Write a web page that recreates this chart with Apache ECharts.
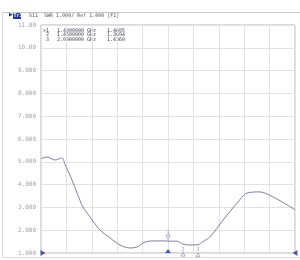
<!DOCTYPE html>
<html><head><meta charset="utf-8">
<script src="https://cdn.jsdelivr.net/npm/echarts@6/dist/echarts.min.js"></script>
<style>html,body{margin:0;padding:0;background:#fff}#c{width:300px;height:260px}</style>
</head><body><div id="c"></div>
<script>
// Trace: stimulus position (0..100 across the 10 divisions) and SWR values
const tracePos = [0, 0.8, 2.4, 5.5, 8.3, 9.4, 12.2, 14.2, 16.5, 19.3, 23.2, 27.2, 31.1, 35.0, 37.8, 40.9, 44.1, 48.8, 50, 53.5, 55.9, 58.7, 61.8, 63.8, 66.5, 71.7, 77.2, 81.1, 86.2, 91.3, 96.9, 100];
const traceSWR = [5.12, 5.17, 5.21, 5.08, 5.17, 4.90, 4.20, 3.63, 3.02, 2.58, 2.01, 1.66, 1.35, 1.22, 1.26, 1.48, 1.53, 1.53, 1.52, 1.52, 1.39, 1.35, 1.36, 1.50, 1.70, 2.45, 3.19, 3.63, 3.68, 3.46, 3.11, 2.89];
const yTickLabels = ["1.000","2.000","3.000","4.000","5.000","6.000","7.000","8.000","9.000","10.00","11.00"];
// Markers
const markerNames = ["1", "2", "3"];
const markerPos = [50, 55.9, 61.8];
const markerFreq = ["1.4000000", "1.4500000", "2.0000000"];
const markerVal = ["1.4695", "1.3694", "1.4360"];
const markerSWR = [1.52, 1.39, 1.36];

const chart = echarts.init(document.getElementById('c'), null, {renderer: 'canvas'});
const mono = 'DejaVu Sans Mono';
const traceColor = '#7b80a6';
const blue = '#23389a';

const tableTexts = [];
for (let i = 0; i < markerNames.length; i++) {
  const y = 28 + i * 4.6;
  tableTexts.push({type:'text', left: 43, top: y, style:{text: (i===0?'>':' ') + markerNames[i], font: '5px ' + mono, fill:'#445'}});
  tableTexts.push({type:'text', left: 57, top: y, style:{text: markerFreq[i] + ' GHz', font: '5px ' + mono, fill:'#445'}});
  tableTexts.push({type:'text', left: 107, top: y, style:{text: markerVal[i], font: '5px ' + mono, fill:'#445'}});
}

chart.setOption({
  animation: false,
  backgroundColor: '#fff',
  grid: {left: 41, top: 25, width: 254, height: 228, show: true, borderColor: '#b4b4b4', borderWidth: 1},
  xAxis: {type: 'value', min: 0, max: 100, interval: 10,
    axisLine: {show: false}, axisTick: {show: false}, axisLabel: {show: false},
    splitLine: {show: true, lineStyle: {color: '#e2e2e2', width: 1}}},
  yAxis: {type: 'value', min: 1, max: 11, interval: 1,
    axisLine: {show: false}, axisTick: {show: false},
    axisLabel: {color: '#a0a0a0', fontSize: 6, fontFamily: mono, margin: 5,
      formatter: (v) => yTickLabels[Math.round(v) - 1]},
    splitLine: {show: true, lineStyle: {color: '#e2e2e2', width: 1}}},
  graphic: [
    {type:'line', shape:{x1:2, y1:12.5, x2:300, y2:12.5}, style:{stroke:'#c8c8c8', lineWidth:1}},
    {type:'line', shape:{x1:2.5, y1:12.5, x2:2.5, y2:258}, style:{stroke:'#dcdcdc', lineWidth:1}},
    {type:'line', shape:{x1:2, y1:257.5, x2:300, y2:257.5}, style:{stroke:'#dcdcdc', lineWidth:1}},
    {type:'text', left: 9, top: 12.5, style:{text:'\u25B6', font:'5px DejaVu Sans', fill: blue}},
    {type:'rect', shape:{x:13, y:13, width:8, height:6}, style:{fill: blue}},
    {type:'text', left: 13.5, top: 13.5, style:{text:'Tr1', font:'bold 5px ' + mono, fill:'#fff'}},
    {type:'text', left: 29, top: 13.5, style:{text:'S11  SWR 1.000/ Ref 1.000 [F1]', font:'5px ' + mono, fill:'#555'}},
    ...tableTexts
  ],
  series: [
    {type: 'line', data: tracePos.map((x, i) => [x, traceSWR[i]]), showSymbol: false, smooth: 0.3,
      lineStyle: {color: traceColor, width: 1}, z: 3},
    {type: 'scatter', clip: false, z: 4,
      data: [{value: [markerPos[0], markerSWR[0]], symbol: 'triangle', symbolRotate: 180, symbolOffset: [0, -4], symbolSize: [4, 4],
              label: {show: true, position: 'top', distance: 0, formatter: markerNames[0], fontSize: 5, color: traceColor, fontFamily: mono}},
             {value: [markerPos[1], markerSWR[1]], symbol: 'triangle', symbolOffset: [0, 10], symbolSize: [4, 4],
              label: {show: true, position: 'top', distance: 0, formatter: markerNames[1], fontSize: 5, color: traceColor, fontFamily: mono}},
             {value: [markerPos[2], markerSWR[2]], symbol: 'triangle', symbolOffset: [0, 10], symbolSize: [4, 4],
              label: {show: true, position: 'top', distance: 0, formatter: markerNames[2], fontSize: 5, color: traceColor, fontFamily: mono}}],
      itemStyle: {color: '#fff', borderColor: traceColor, borderWidth: 0.8}},
    {type: 'scatter', clip: false, z: 5, silent: true,
      data: [{value: [markerPos[0], 1], symbol: 'triangle', symbolSize: [6, 4], symbolOffset: [0, -2]},
             {value: [0, 1], symbol: 'triangle', symbolRotate: -90, symbolSize: [6, 5], symbolOffset: [2, 0]},
             {value: [100, 1], symbol: 'triangle', symbolRotate: 90, symbolSize: [6, 5], symbolOffset: [0, 0]}],
      itemStyle: {color: blue}}
  ]
});
</script></body></html>
